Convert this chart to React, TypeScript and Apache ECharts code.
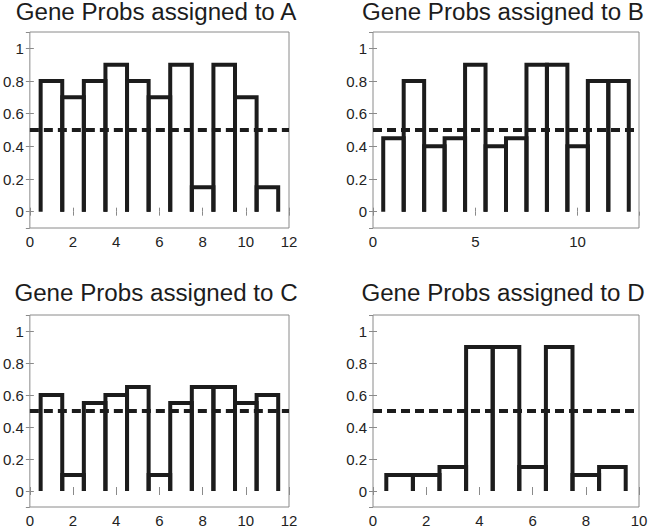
import React, { useEffect, useRef } from "react";
import * as echarts from "echarts";

const titles = [
  "Gene Probs assigned to A",
  "Gene Probs assigned to B",
  "Gene Probs assigned to C",
  "Gene Probs assigned to D",
];
const probsA = [0.8, 0.7, 0.8, 0.9, 0.8, 0.7, 0.9, 0.15, 0.9, 0.7, 0.15];
const probsB = [0.45, 0.8, 0.4, 0.45, 0.9, 0.4, 0.45, 0.9, 0.9, 0.4, 0.8, 0.8];
const probsC = [0.6, 0.1, 0.55, 0.6, 0.65, 0.1, 0.55, 0.65, 0.65, 0.55, 0.6];
const probsD = [0.1, 0.1, 0.15, 0.9, 0.9, 0.15, 0.9, 0.1, 0.15];
const xMaxes = [12, 13, 12, 10];
const xIntervals = [2, 5, 2, 2];
const threshold = 0.5;
const yMin = -0.1;
const yMax = 1.1;

const allProbs = [probsA, probsB, probsC, probsD];

const grids = [
  { left: 23, top: 32, width: 266, height: 196 },
  { left: 373, top: 32, width: 266, height: 196 },
  { left: 23, top: 315, width: 266, height: 196 },
  { left: 373, top: 315, width: 266, height: 196 },
];

const INK = "#1c1c1c";
const BOX = "#8a8a8a";
const FONT = "Liberation Sans";

export default function App() {
  const ref = useRef<HTMLDivElement>(null);
  useEffect(() => {
    document.body.style.margin = "0";
    if (!ref.current) return;
    const chart = echarts.init(ref.current, null, { renderer: "svg" });

    const xAxis: any[] = [];
    const yAxis: any[] = [];
    const series: any[] = [];
    const graphic: any[] = [];

    grids.forEach((g, i) => {
      const common = {
        gridIndex: i,
        type: "value",
        axisLine: { show: false },
        splitLine: { show: false },
        axisTick: { show: true, inside: true, length: 4, lineStyle: { color: BOX, width: 1 } },
      };
      xAxis.push({
        ...common,
        position: "bottom",
        min: 0,
        max: xMaxes[i],
        interval: xIntervals[i],
        axisLabel: {
          show: true,
          margin: 6,
          fontSize: 15,
          fontFamily: FONT,
          color: "#222222",
          showMaxLabel: xMaxes[i] % xIntervals[i] === 0,
        },
      });
      xAxis.push({
        ...common,
        position: "top",
        min: 0,
        max: xMaxes[i],
        interval: xIntervals[i],
        axisLabel: { show: false },
      });
      yAxis.push({
        ...common,
        position: "left",
        min: yMin,
        max: yMax,
        minInterval: 0.2,
        maxInterval: 0.2,
        axisLabel: {
          show: true,
          margin: 6,
          fontSize: 15,
          fontFamily: FONT,
          color: "#222222",
          showMinLabel: false,
          showMaxLabel: false,
          formatter: (v: number) => String(Math.round(v * 10) / 10),
        },
      });
      yAxis.push({
        ...common,
        position: "right",
        min: yMin,
        max: yMax,
        minInterval: 0.2,
        maxInterval: 0.2,
        axisLabel: { show: false },
      });

      const data = allProbs[i].map((v, k) => [k + 1, v]);
      series.push({
        type: "custom",
        xAxisIndex: i * 2,
        yAxisIndex: i * 2,
        data,
        clip: false,
        renderItem: (params: any, api: any) => {
          const x = api.value(0);
          const v = api.value(1);
          const pts = [
            api.coord([x - 0.5, 0]),
            api.coord([x - 0.5, v]),
            api.coord([x + 0.5, v]),
            api.coord([x + 0.5, 0]),
          ];
          return {
            type: "polyline",
            shape: { points: pts },
            style: { stroke: INK, lineWidth: 4, fill: "none", lineJoin: "miter", lineCap: "butt" },
          };
        },
      });
      series.push({
        type: "line",
        xAxisIndex: i * 2,
        yAxisIndex: i * 2,
        data: [
          [0, threshold],
          [xMaxes[i], threshold],
        ],
        symbol: "none",
        lineStyle: { color: INK, width: 4, type: [9, 5] },
        z: 3,
      });

      graphic.push({
        type: "text",
        x: Math.min(g.left + g.width / 2, 503),
        y: Math.max(g.top - 22, 12),
        scaleX: 1.05,
        style: {
          x: 0,
          y: 0,
          text: titles[i],
          fontSize: 23,
          fontFamily: FONT,
          fill: INK,
          textAlign: "center",
          textVerticalAlign: "middle",
        },
      });
    });

    chart.setOption({
      animation: false,
      backgroundColor: "#ffffff",
      grid: grids.map((g) => ({
        ...g,
        show: true,
        borderColor: BOX,
        borderWidth: 1,
        backgroundColor: "transparent",
      })),
      xAxis,
      yAxis,
      series,
      graphic,
    });
    return () => chart.dispose();
  }, []);
  return <div ref={ref} style={{ width: 651, height: 528 }} />;
}
